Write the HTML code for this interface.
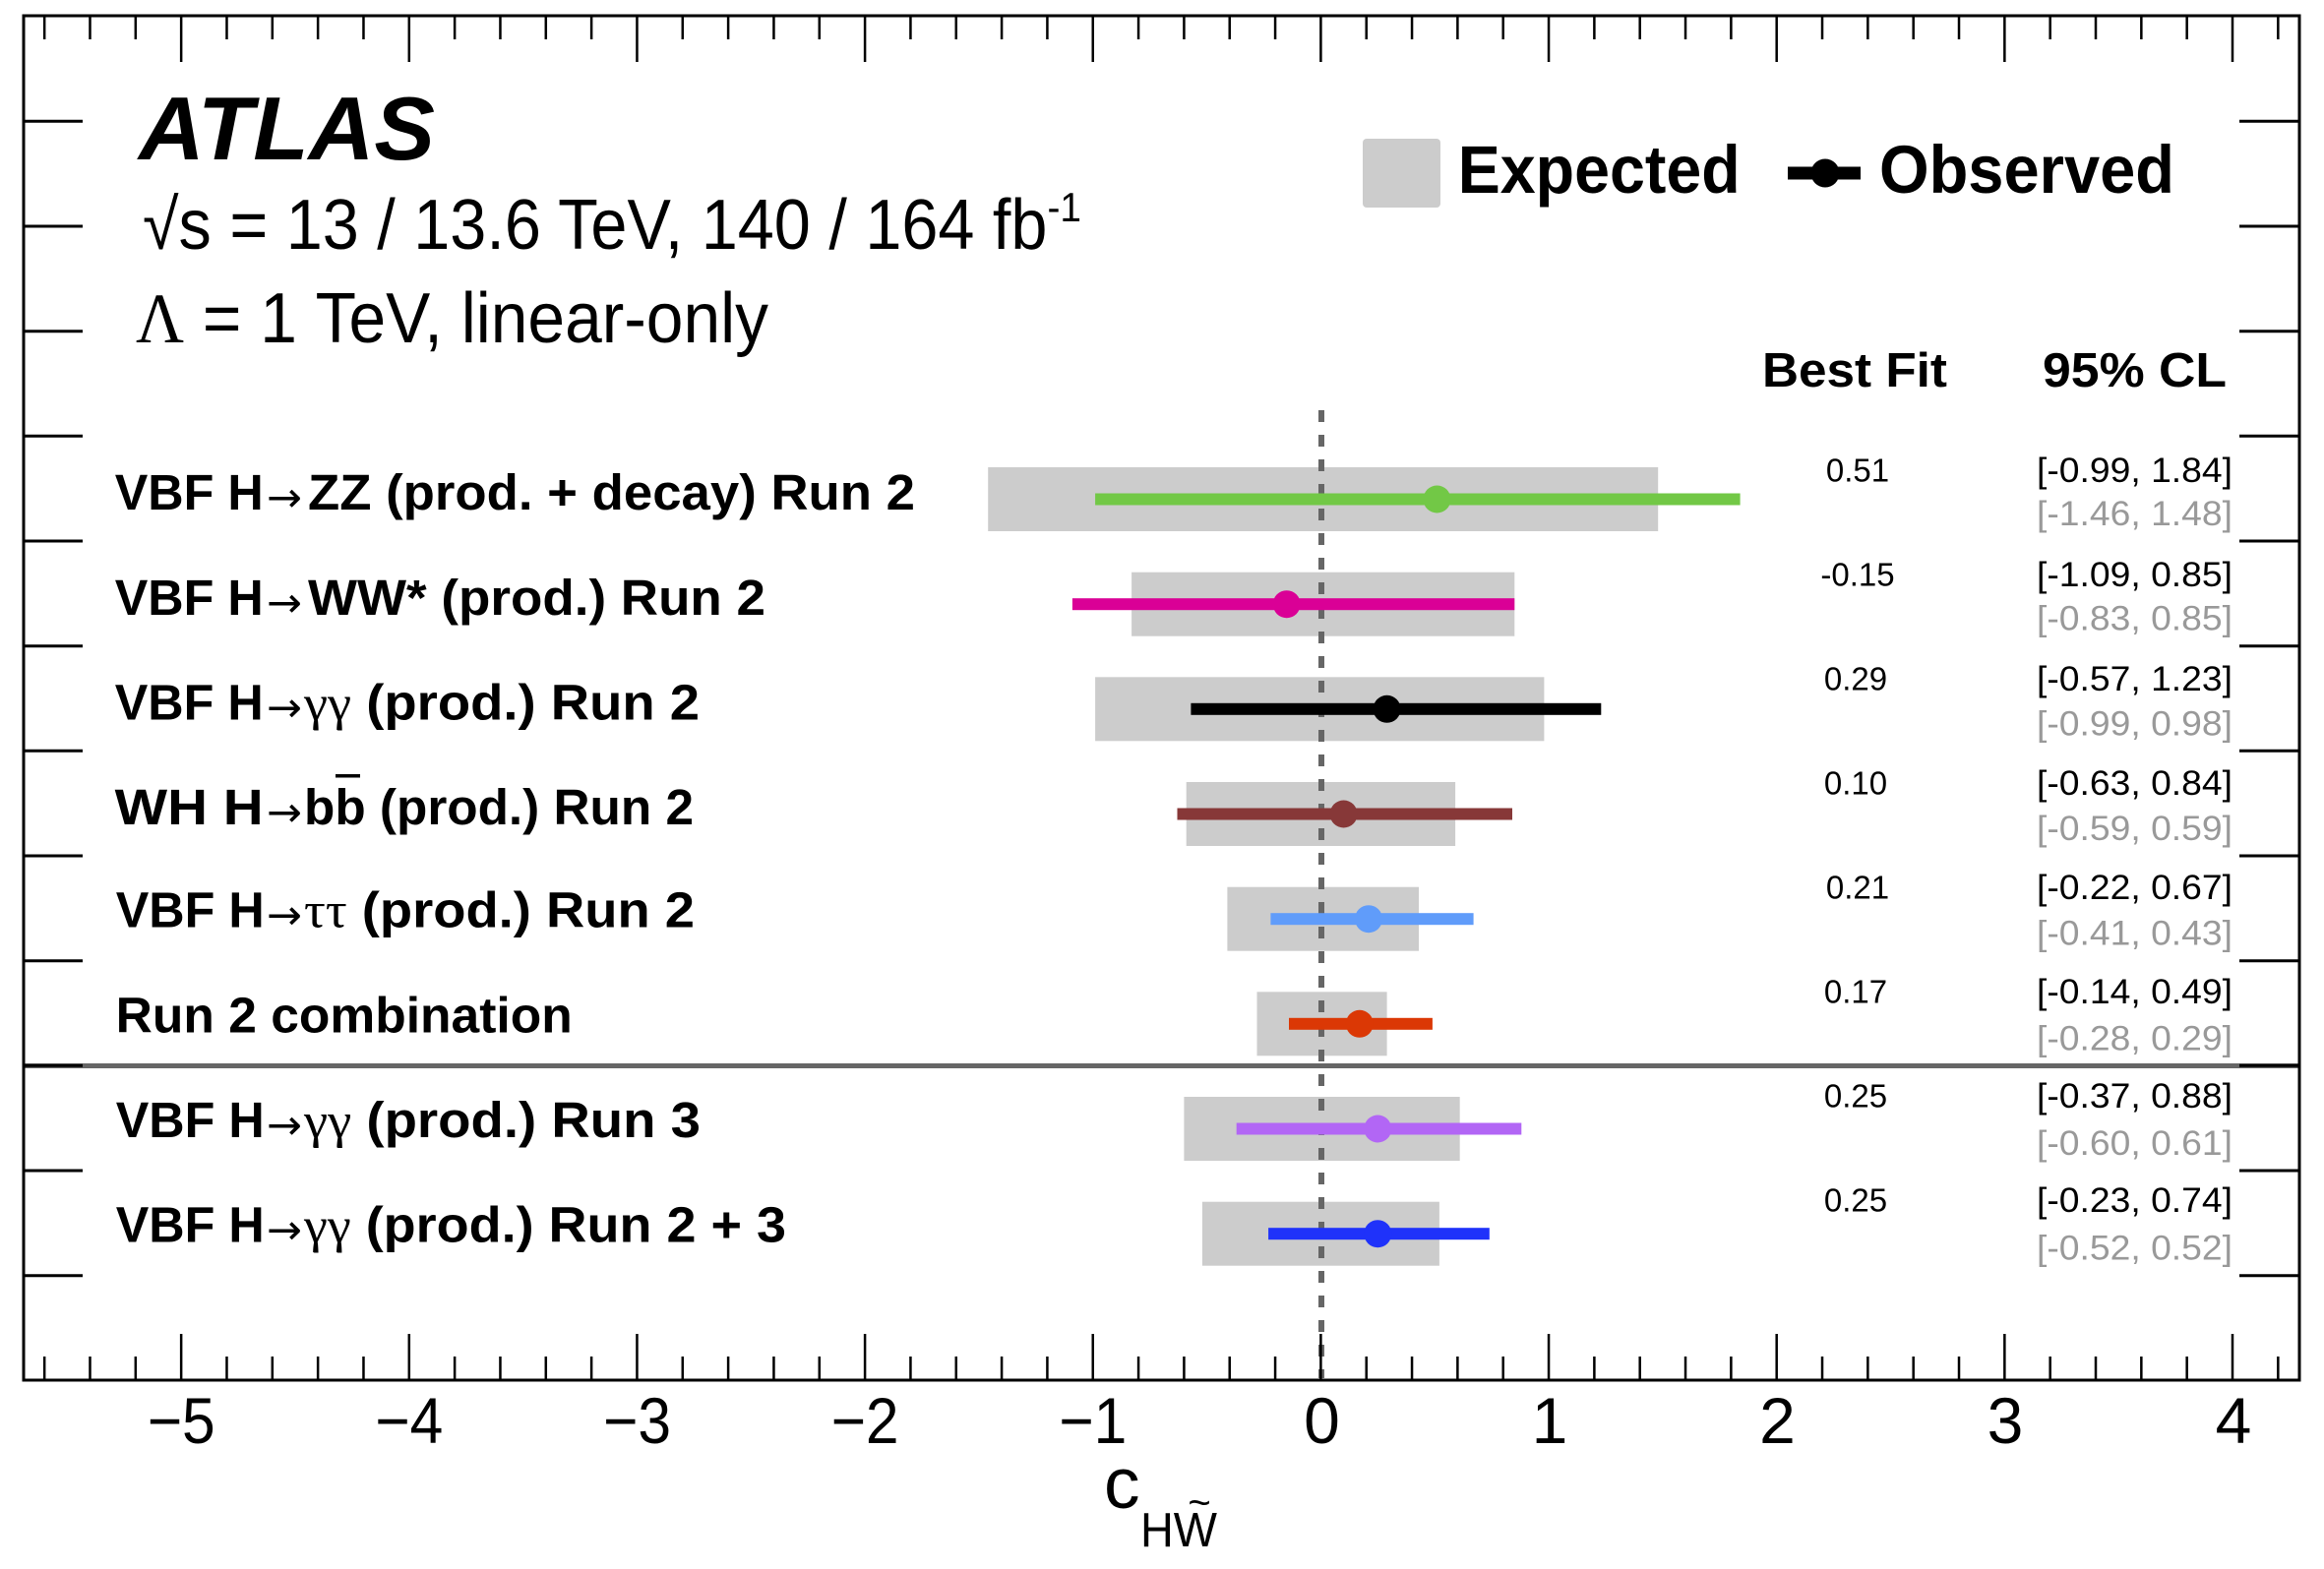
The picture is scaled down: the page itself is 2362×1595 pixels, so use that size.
<!DOCTYPE html>
<html><head><meta charset="utf-8"><style>
html,body{margin:0;padding:0;background:#fff;}
svg{display:block;}
text{font-family:"Liberation Sans",Arial,sans-serif;}
.serif{font-family:"Liberation Serif","DejaVu Serif",serif;}
.arr{font-family:"DejaVu Sans",sans-serif;}
</style></head><body>
<svg width="2362" height="1595" viewBox="0 0 2362 1595" xmlns="http://www.w3.org/2000/svg">
<rect x="0" y="0" width="2362" height="1595" fill="#fff"/>

<!-- expected bands -->
<g fill="#cccccc">
<rect x="1004.2" y="475" width="681" height="65"/>
<rect x="1150.1" y="581.7" width="389.2" height="65"/>
<rect x="1113.1" y="688.3" width="456.3" height="65"/>
<rect x="1205.7" y="795" width="273.4" height="65"/>
<rect x="1247.4" y="901.7" width="194.6" height="65"/>
<rect x="1277.5" y="1008.3" width="132.1" height="65"/>
<rect x="1203.4" y="1115" width="280.3" height="65"/>
<rect x="1221.9" y="1221.7" width="241" height="65"/>
</g>

<!-- dashed zero line -->
<line x1="1343" y1="417" x2="1343" y2="1401" stroke="#666" stroke-width="6" stroke-dasharray="12 13"/>

<!-- separator -->
<line x1="24" y1="1083.5" x2="2337" y2="1083.5" stroke="#666" stroke-width="5"/>

<!-- observed -->
<g>
<rect x="1113.1" y="501.5" width="655.5" height="12" fill="#72c846"/><circle cx="1460.5" cy="507.5" r="14" fill="#72c846"/>
<rect x="1089.9" y="608.2" width="449.4" height="12" fill="#da0096"/><circle cx="1307.7" cy="614.2" r="14" fill="#da0096"/>
<rect x="1210.4" y="714.8" width="416.9" height="12" fill="#000"/><circle cx="1409.6" cy="720.8" r="14" fill="#000"/>
<rect x="1196.5" y="821.5" width="340.5" height="12" fill="#873838"/><circle cx="1365.6" cy="827.5" r="14" fill="#873838"/>
<rect x="1291.4" y="928.2" width="206.2" height="12" fill="#609cfa"/><circle cx="1391" cy="934.2" r="14" fill="#609cfa"/>
<rect x="1310" y="1034.8" width="145.9" height="12" fill="#db3805"/><circle cx="1381.8" cy="1040.8" r="14" fill="#db3805"/>
<rect x="1256.7" y="1141.5" width="289.6" height="12" fill="#b266f5"/><circle cx="1400.3" cy="1147.5" r="14" fill="#b266f5"/>
<rect x="1289.1" y="1248.2" width="224.7" height="12" fill="#1f32fa"/><circle cx="1400.3" cy="1254.2" r="14" fill="#1f32fa"/>
</g>

<!-- frame -->
<rect x="24" y="16" width="2313" height="1387" fill="none" stroke="#000" stroke-width="3"/>

<!-- x ticks -->
<path stroke="#000" stroke-width="2.5" fill="none" d="
M45.16,16v24 M91.49,16v24 M137.82,16v24 M184.15,16v47 M230.48,16v24 M276.81,16v24 M323.14,16v24 M369.47,16v24 M415.8,16v47
M462.13,16v24 M508.46,16v24 M554.79,16v24 M601.12,16v24 M647.45,16v47 M693.78,16v24 M740.11,16v24 M786.44,16v24 M832.77,16v24
M879.1,16v47 M925.43,16v24 M971.76,16v24 M1018.09,16v24 M1064.42,16v24 M1110.75,16v47 M1157.08,16v24 M1203.41,16v24 M1249.74,16v24
M1296.07,16v24 M1342.4,16v47 M1388.73,16v24 M1435.06,16v24 M1481.39,16v24 M1527.72,16v24 M1574.05,16v47 M1620.38,16v24 M1666.71,16v24
M1713.04,16v24 M1759.37,16v24 M1805.7,16v47 M1852.03,16v24 M1898.36,16v24 M1944.69,16v24 M1991.02,16v24 M2037.35,16v47 M2083.68,16v24
M2130.01,16v24 M2176.34,16v24 M2222.67,16v24 M2269,16v47 M2315.33,16v24
M45.16,1403v-24 M91.49,1403v-24 M137.82,1403v-24 M184.15,1403v-47 M230.48,1403v-24 M276.81,1403v-24 M323.14,1403v-24 M369.47,1403v-24 M415.8,1403v-47
M462.13,1403v-24 M508.46,1403v-24 M554.79,1403v-24 M601.12,1403v-24 M647.45,1403v-47 M693.78,1403v-24 M740.11,1403v-24 M786.44,1403v-24 M832.77,1403v-24
M879.1,1403v-47 M925.43,1403v-24 M971.76,1403v-24 M1018.09,1403v-24 M1064.42,1403v-24 M1110.75,1403v-47 M1157.08,1403v-24 M1203.41,1403v-24 M1249.74,1403v-24
M1296.07,1403v-24 M1342.4,1403v-47 M1388.73,1403v-24 M1435.06,1403v-24 M1481.39,1403v-24 M1527.72,1403v-24 M1574.05,1403v-47 M1620.38,1403v-24 M1666.71,1403v-24
M1713.04,1403v-24 M1759.37,1403v-24 M1805.7,1403v-47 M1852.03,1403v-24 M1898.36,1403v-24 M1944.69,1403v-24 M1991.02,1403v-24 M2037.35,1403v-47 M2083.68,1403v-24
M2130.01,1403v-24 M2176.34,1403v-24 M2222.67,1403v-24 M2269,1403v-47 M2315.33,1403v-24"/>

<!-- y ticks -->
<path stroke="#000" stroke-width="3" fill="none" d="
M24,123.3h60 M24,230h60 M24,336.7h60 M24,443.3h60 M24,550h60 M24,656.7h60 M24,763.3h60 M24,870h60 M24,976.7h60 M24,1083.3h60 M24,1190h60 M24,1296.7h60
M2337,123.3h-61 M2337,230h-61 M2337,336.7h-61 M2337,443.3h-61 M2337,550h-61 M2337,656.7h-61 M2337,763.3h-61 M2337,870h-61 M2337,976.7h-61 M2337,1083.3h-61 M2337,1190h-61 M2337,1296.7h-61"/>

<!-- tick labels -->
<g font-size="66" text-anchor="middle" fill="#000">
<text x="184.2" y="1467" textLength="69" lengthAdjust="spacingAndGlyphs">−5</text>
<text x="415.8" y="1467" textLength="69" lengthAdjust="spacingAndGlyphs">−4</text>
<text x="647.5" y="1467" textLength="69" lengthAdjust="spacingAndGlyphs">−3</text>
<text x="879.1" y="1467" textLength="69" lengthAdjust="spacingAndGlyphs">−2</text>
<text x="1110.8" y="1467" textLength="69" lengthAdjust="spacingAndGlyphs">−1</text>
<text x="1343.5" y="1467">0</text>
<text x="1575" y="1467">1</text>
<text x="1806.5" y="1467">2</text>
<text x="2038" y="1467">3</text>
<text x="2270" y="1467">4</text>
</g>

<!-- axis title -->
<text x="1122" y="1533" font-size="73">c</text>
<text x="1159" y="1572" font-size="49" textLength="78" lengthAdjust="spacingAndGlyphs">HW</text>
<text x="1219" y="1541" font-size="40" text-anchor="middle">~</text>

<!-- ATLAS block -->
<text x="141" y="162" font-size="91" font-weight="bold" font-style="italic" textLength="301" lengthAdjust="spacingAndGlyphs">ATLAS</text>
<text x="145" y="253" font-size="72" textLength="954" lengthAdjust="spacingAndGlyphs">√s = 13 / 13.6 TeV, 140 / 164 fb<tspan font-size="42" dy="-28">-1</tspan></text>
<text x="138" y="348" font-size="72" textLength="643" lengthAdjust="spacingAndGlyphs"><tspan class="serif">Λ</tspan> = 1 TeV, linear-only</text>

<!-- legend -->
<rect x="1385" y="141" width="79" height="70" rx="4" fill="#cccccc"/>
<text x="1481.7" y="196" font-size="69" font-weight="bold" textLength="287" lengthAdjust="spacingAndGlyphs">Expected</text>
<line x1="1817" y1="176" x2="1891" y2="176" stroke="#000" stroke-width="13"/>
<circle cx="1855" cy="176" r="14.5" fill="#000"/>
<text x="1910" y="196" font-size="69" font-weight="bold" textLength="300" lengthAdjust="spacingAndGlyphs">Observed</text>

<!-- column headers -->
<text x="1791" y="393" font-size="49" font-weight="bold" textLength="188" lengthAdjust="spacingAndGlyphs">Best Fit</text>
<text x="2076" y="393" font-size="49" font-weight="bold" textLength="187" lengthAdjust="spacingAndGlyphs">95% CL</text>

<!-- row labels -->
<g font-size="51" font-weight="bold" fill="#000">
<text x="116.7" y="518" textLength="151" lengthAdjust="spacingAndGlyphs">VBF H</text>
<text x="313" y="518" textLength="617" lengthAdjust="spacingAndGlyphs">ZZ (prod. + decay) Run 2</text>

<text x="116.7" y="625" textLength="151" lengthAdjust="spacingAndGlyphs">VBF H</text>
<text x="313" y="625" textLength="465" lengthAdjust="spacingAndGlyphs">WW* (prod.) Run 2</text>

<text x="116.7" y="731.7" textLength="151" lengthAdjust="spacingAndGlyphs">VBF H</text>
<text x="309" y="731.7" textLength="402" lengthAdjust="spacingAndGlyphs"><tspan class="serif" font-weight="normal">γγ</tspan> (prod.) Run 2</text>

<text x="116.7" y="838" textLength="151" lengthAdjust="spacingAndGlyphs">WH H</text>
<text x="309" y="838" textLength="396" lengthAdjust="spacingAndGlyphs">bb (prod.) Run 2</text>

<text x="117.7" y="942.7" textLength="151" lengthAdjust="spacingAndGlyphs">VBF H</text>
<text x="309" y="942.7" textLength="397" lengthAdjust="spacingAndGlyphs"><tspan class="serif" font-weight="normal">ττ</tspan> (prod.) Run 2</text>

<text x="117.7" y="1049.3" textLength="464" lengthAdjust="spacingAndGlyphs">Run 2 combination</text>

<text x="117.7" y="1156" textLength="151" lengthAdjust="spacingAndGlyphs">VBF H</text>
<text x="309" y="1156" textLength="403" lengthAdjust="spacingAndGlyphs"><tspan class="serif" font-weight="normal">γγ</tspan> (prod.) Run 3</text>

<text x="117.7" y="1262.7" textLength="151" lengthAdjust="spacingAndGlyphs">VBF H</text>
<text x="309" y="1262.7" textLength="490" lengthAdjust="spacingAndGlyphs"><tspan class="serif" font-weight="normal">γγ</tspan> (prod.) Run 2 + 3</text>
</g>
<!-- arrows -->
<g class="arr" font-size="42" fill="#000">
<text class="arr" x="271" y="520" textLength="36" lengthAdjust="spacingAndGlyphs">→</text>
<text class="arr" x="271" y="627" textLength="36" lengthAdjust="spacingAndGlyphs">→</text>
<text class="arr" x="271" y="733.7" textLength="36" lengthAdjust="spacingAndGlyphs">→</text>
<text class="arr" x="271" y="840" textLength="36" lengthAdjust="spacingAndGlyphs">→</text>
<text class="arr" x="271" y="944.7" textLength="36" lengthAdjust="spacingAndGlyphs">→</text>
<text class="arr" x="271" y="1158" textLength="36" lengthAdjust="spacingAndGlyphs">→</text>
<text class="arr" x="271" y="1264.7" textLength="36" lengthAdjust="spacingAndGlyphs">→</text>
</g>
<rect x="341" y="787" width="25" height="3.5" fill="#000"/>

<!-- best fit values -->
<g font-size="33" text-anchor="middle" fill="#000">
<text x="1888" y="489.7">0.51</text>
<text x="1888" y="595.7">-0.15</text>
<text x="1886" y="701.7">0.29</text>
<text x="1886" y="807.7">0.10</text>
<text x="1888" y="913.7">0.21</text>
<text x="1886" y="1019.7">0.17</text>
<text x="1886" y="1125.7">0.25</text>
<text x="1886" y="1231.7">0.25</text>
</g>

<!-- CL observed -->
<g font-size="35" fill="#000">
<text x="2070" y="490" textLength="199" lengthAdjust="spacingAndGlyphs">[-0.99, 1.84]</text>
<text x="2070" y="596" textLength="199" lengthAdjust="spacingAndGlyphs">[-1.09, 0.85]</text>
<text x="2070" y="702" textLength="199" lengthAdjust="spacingAndGlyphs">[-0.57, 1.23]</text>
<text x="2070" y="808" textLength="199" lengthAdjust="spacingAndGlyphs">[-0.63, 0.84]</text>
<text x="2070" y="914" textLength="199" lengthAdjust="spacingAndGlyphs">[-0.22, 0.67]</text>
<text x="2070" y="1020" textLength="199" lengthAdjust="spacingAndGlyphs">[-0.14, 0.49]</text>
<text x="2070" y="1126" textLength="199" lengthAdjust="spacingAndGlyphs">[-0.37, 0.88]</text>
<text x="2070" y="1232" textLength="199" lengthAdjust="spacingAndGlyphs">[-0.23, 0.74]</text>
</g>
<!-- CL expected -->
<g font-size="35" fill="#999999">
<text x="2070" y="534" textLength="199" lengthAdjust="spacingAndGlyphs">[-1.46, 1.48]</text>
<text x="2070" y="640.7" textLength="199" lengthAdjust="spacingAndGlyphs">[-0.83, 0.85]</text>
<text x="2070" y="747.3" textLength="199" lengthAdjust="spacingAndGlyphs">[-0.99, 0.98]</text>
<text x="2070" y="854" textLength="199" lengthAdjust="spacingAndGlyphs">[-0.59, 0.59]</text>
<text x="2070" y="960.7" textLength="199" lengthAdjust="spacingAndGlyphs">[-0.41, 0.43]</text>
<text x="2070" y="1067.3" textLength="199" lengthAdjust="spacingAndGlyphs">[-0.28, 0.29]</text>
<text x="2070" y="1174" textLength="199" lengthAdjust="spacingAndGlyphs">[-0.60, 0.61]</text>
<text x="2070" y="1280.7" textLength="199" lengthAdjust="spacingAndGlyphs">[-0.52, 0.52]</text>
</g>
</svg>
</body></html>
